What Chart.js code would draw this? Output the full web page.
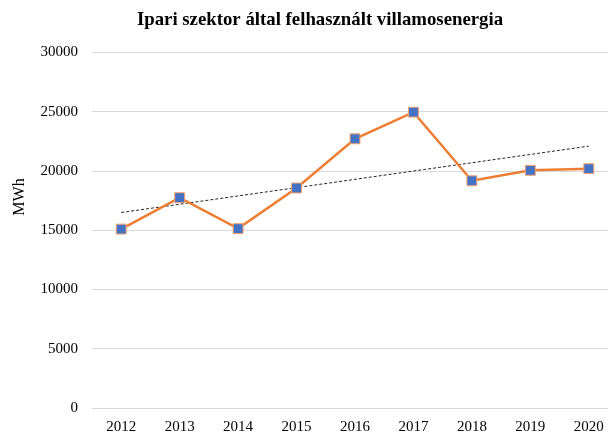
<!DOCTYPE html>
<html lang="hu">
  <head>
    <meta charset="UTF-8" />
    <title>Ipari szektor</title>
    <script src="https://cdn.jsdelivr.net/npm/chart.js"></script>
    <style>
      html, body { margin: 0; padding: 0; overflow: hidden; background: #fff; }
      .wrap { width: 640px; height: 432px; }
    </style>
  </head>
  <body>
    <div class="wrap">
      <canvas id="chart" width="640" height="432"></canvas>
    </div>

    <script>
      // Adatok
      const years = ["2012", "2013", "2014", "2015", "2016", "2017", "2018", "2019", "2020"];
      const consumption = [15100, 17750, 15140, 18570, 22720, 24970, 19180, 20060, 20200];
      // trendvonal végpontjai
      const trend = [16500, null, null, null, null, null, null, null, 22100];
      const yTicks = [0, 5000, 10000, 15000, 20000, 25000, 30000];

      const serif = "'Liberation Serif', 'DejaVu Serif', serif";

      // y tengely felirat
      const yTitle = {
        id: "yTitle",
        afterDraw(chart) {
          const ctx = chart.ctx;
          ctx.save();
          ctx.translate(20, 197);
          ctx.rotate(-Math.PI / 2);
          ctx.font = "16px " + serif;
          ctx.fillStyle = "#000";
          ctx.textAlign = "center";
          ctx.textBaseline = "middle";
          ctx.fillText("MWh", 0, 0);
          ctx.restore();
        },
      };

      new Chart(document.getElementById("chart"), {
        type: "line",
        data: {
          labels: years,
          datasets: [
            {
              label: "Trend",
              data: trend,
              spanGaps: true,
              borderColor: "#262626",
              borderWidth: 1,
              borderDash: [3, 2],
              pointRadius: 0,
              fill: false,
              order: 1,
            },
            {
              label: "Villamosenergia",
              data: consumption,
              borderColor: "#ED7D31",
              borderWidth: 2.5,
              pointStyle: "rect",
              pointRadius: 7,
              pointHoverRadius: 7,
              pointBackgroundColor: "#4472C4",
              pointBorderColor: "#F4A36C",
              pointBorderWidth: 1,
              tension: 0,
              fill: false,
              order: 0,
            },
          ],
        },
        options: {
          responsive: false,
          animation: false,
          layout: { padding: { left: 22, right: 22, top: 0, bottom: 0 } },
          plugins: {
            legend: { display: false },
            tooltip: { enabled: false },
            title: {
              display: true,
              text: "Ipari szektor által felhasznált villamosenergia",
              color: "#000",
              font: { family: serif, size: 18.8, weight: "bold" },
              padding: { top: 9, bottom: 21 },
            },
          },
          scales: {
            x: {
              offset: true,
              grid: { display: false, drawTicks: false },
              border: { display: false },
              ticks: {
                color: "#000",
                font: { family: serif, size: 15 },
                padding: 10,
                maxRotation: 0,
              },
              afterFit(scale) {
                scale.height = 24;
              },
            },
            y: {
              min: 0,
              max: 30000,
              afterBuildTicks(scale) {
                scale.ticks = yTicks.map((v) => ({ value: v }));
              },
              grid: { color: "#D9D9D9", lineWidth: 1, drawTicks: false },
              border: { display: false },
              ticks: {
                color: "#000",
                font: { family: serif, size: 15 },
                padding: 14,
                callback: (v) => String(v),
              },
              afterFit(scale) {
                scale.width = 70;
              },
            },
          },
        },
        plugins: [yTitle],
      });
    </script>
  </body>
</html>
